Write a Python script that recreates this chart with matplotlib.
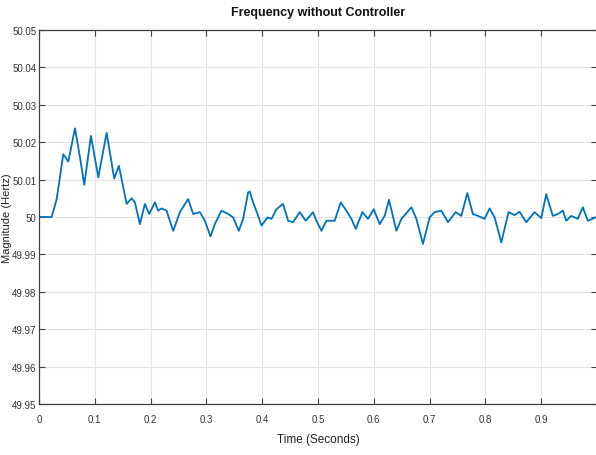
import matplotlib
matplotlib.use("Agg")
import matplotlib.pyplot as plt
from matplotlib.ticker import FuncFormatter

# Time (s) and frequency (Hz)
time_s = [0.000, 0.0227, 0.0317, 0.0376, 0.0435, 0.0525, 0.0645, 0.0734, 0.0811, 0.0931,
          0.1062, 0.1212, 0.1348, 0.1432, 0.1570, 0.1660, 0.1719, 0.1808, 0.1898, 0.1975,
          0.2077, 0.2136, 0.2197, 0.2286, 0.2405, 0.2525, 0.2673, 0.2763, 0.2883, 0.2972,
          0.3074, 0.3151, 0.3271, 0.3389, 0.3479, 0.3581, 0.3658, 0.3748, 0.3778, 0.3837,
          0.3916, 0.3987, 0.4095, 0.4167, 0.4256, 0.4374, 0.4464, 0.4553, 0.4673, 0.4781,
          0.4911, 0.4972, 0.5062, 0.5151, 0.5300, 0.5407, 0.5509, 0.5599, 0.5676, 0.5796,
          0.5896, 0.5998, 0.6106, 0.6195, 0.6272, 0.6405, 0.6494, 0.6571, 0.6673, 0.6763,
          0.6881, 0.7001, 0.7090, 0.7210, 0.7329, 0.7466, 0.7568, 0.7676, 0.7776, 0.7866,
          0.7986, 0.8075, 0.8165, 0.8285, 0.8415, 0.8523, 0.8612, 0.8732, 0.8881, 0.9001,
          0.9090, 0.9209, 0.9298, 0.9388, 0.9449, 0.9538, 0.9656, 0.9746, 0.9835, 0.9914,
          0.9973]
freq_hz = [50.0000, 50.0000, 50.0048, 50.0107, 50.0168, 50.0148, 50.0237, 50.0160, 50.0086, 50.0217,
           50.0106, 50.0225, 50.0103, 50.0137, 50.0035, 50.0050, 50.0039, 49.9981, 50.0035, 50.0008,
           50.0039, 50.0017, 50.0023, 50.0017, 49.9963, 50.0013, 50.0048, 50.0008, 50.0013, 49.9990,
           49.9948, 49.9981, 50.0017, 50.0008, 49.9999, 49.9963, 49.9995, 50.0066, 50.0068, 50.0039,
           50.0008, 49.9977, 49.9999, 49.9995, 50.0021, 50.0035, 49.9990, 49.9986, 50.0013, 49.9990,
           50.0013, 49.9990, 49.9963, 49.9990, 49.9990, 50.0039, 50.0017, 49.9995, 49.9968, 50.0013,
           49.9995, 50.0021, 49.9981, 50.0003, 50.0046, 49.9963, 49.9995, 50.0008, 50.0026, 49.9995,
           49.9928, 49.9999, 50.0013, 50.0017, 49.9986, 50.0013, 50.0003, 50.0064, 50.0008, 50.0003,
           49.9995, 50.0023, 49.9999, 49.9932, 50.0013, 50.0005, 50.0014, 49.9986, 50.0013, 49.9997,
           50.0061, 50.0003, 50.0008, 50.0017, 49.9990, 50.0003, 49.9995, 50.0026, 49.9990, 49.9995,
           49.9999]

x_ticks = [0, 0.1, 0.2, 0.3, 0.4, 0.5, 0.6, 0.7, 0.8, 0.9]
y_ticks = [49.95, 49.96, 49.97, 49.98, 49.99, 50.00, 50.01, 50.02, 50.03, 50.04, 50.05]

title_text = "Frequency without Controller"
x_label = "Time (Seconds)"
y_label = "Magnitude (Hertz)"

plt.rcParams['font.family'] = ['Liberation Sans Narrow', 'Liberation Sans', 'DejaVu Sans']

W, H = 596, 456
fig = plt.figure(figsize=(W / 100, H / 100), dpi=100)
left, right, top, bottom = 39, 597, 31, 405
ax = fig.add_axes([left / W, 1 - bottom / H, (right - left) / W, (bottom - top) / H])

ax.plot(time_s, freq_hz, color='#0072BD', linewidth=1.3)

ax.set_xlim(0, 1.0)
ax.set_ylim(49.95, 50.05)
ax.set_xticks(x_ticks)
ax.set_yticks(y_ticks)
ax.xaxis.set_major_formatter(FuncFormatter(lambda v, p: f"{v:g}"))
ax.yaxis.set_major_formatter(FuncFormatter(lambda v, p: f"{round(v, 2):g}"))

ax.grid(True, color='#e3e3e3', linewidth=0.8)
ax.set_axisbelow(True)
for s in ax.spines.values():
    s.set_color('#404040')
    s.set_linewidth(0.9)
ax.tick_params(direction='in', length=4, width=0.8, colors='#404040',
               labelcolor='#333333', labelsize=7, top=True, right=True)
ax.tick_params(axis='x', pad=7)
ax.tick_params(axis='y', pad=2)

ax.set_title(title_text, fontsize=9, fontweight='bold', color='#111111', pad=11)
ax.set_xlabel(x_label, fontsize=8.5, color='#222222')
ax.set_ylabel(y_label, fontsize=8, color='#222222')
ax.xaxis.set_label_coords((318 - left) / (right - left), -(440 - bottom) / (bottom - top))
ax.yaxis.set_label_coords(-(left - 7) / (right - left), 0.5)
ax.xaxis.label.set_va('center')
ax.yaxis.label.set_va('center')

fig.savefig("out.png", dpi=100)
